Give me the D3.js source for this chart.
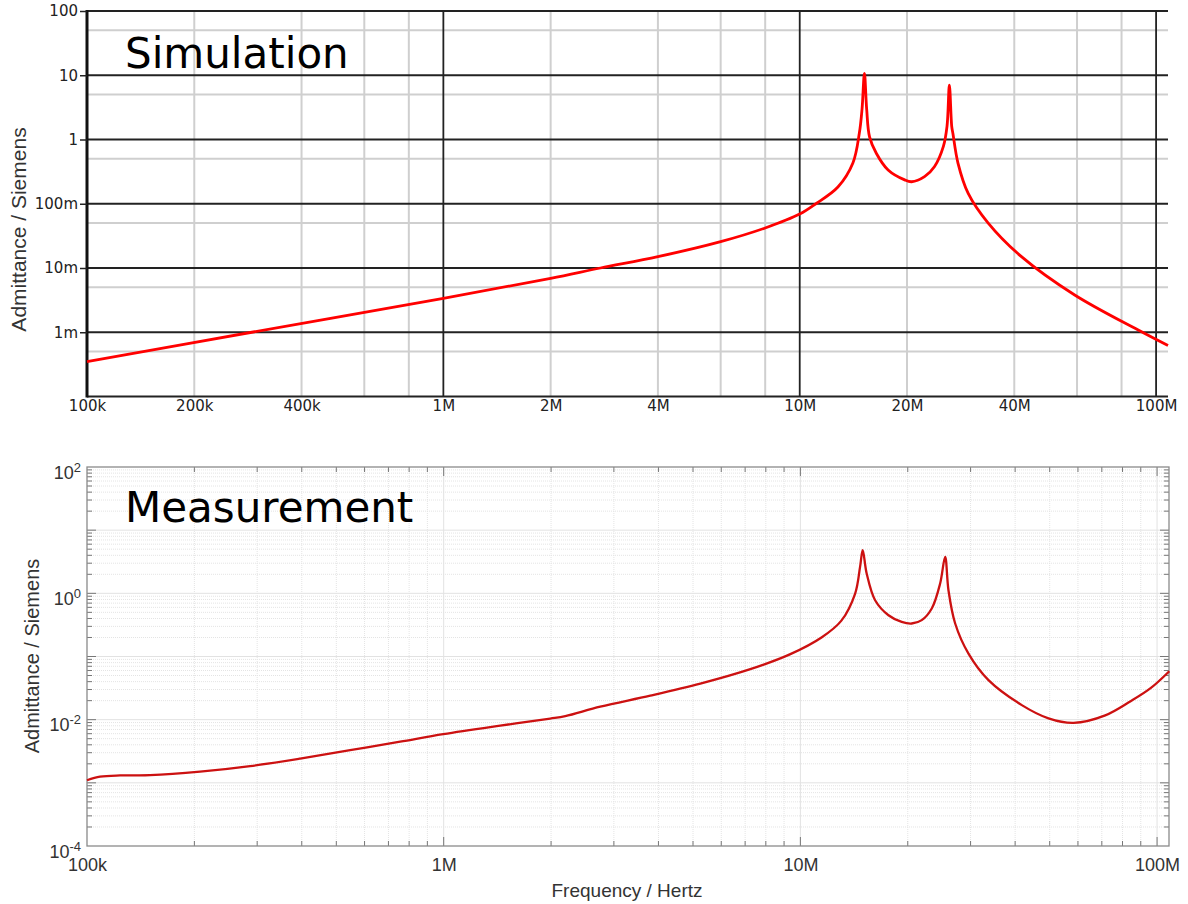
<!DOCTYPE html>
<html><head><meta charset="utf-8">
<script src="https://cdn.jsdelivr.net/npm/d3@7"></script>
<style>body{margin:0;background:#fff}svg{display:block}</style>
</head><body>
<svg id="c" width="1188" height="904"></svg>
<script>
// ---------- DATA ----------
const simFreq = [1e5, 2.9e5, 1e6, 2e6, 2.76e6, 4e6, 6e6, 8e6, 1e7, 1.11e7, 1.28e7, 1.41e7, 1.47e7, 1.496e7, 1.519e7, 1.541e7, 1.57e7, 1.64e7, 1.77e7, 1.97e7, 2.06e7, 2.24e7, 2.39e7, 2.53e7, 2.59e7, 2.63e7, 2.67e7, 2.69e7, 2.78e7, 2.97e7, 3.38e7, 4.19e7, 5.91e7, 8.91e7, 1.08e8];
const simAdm  = [3.5e-4, 1e-3, 3.37e-3, 6.9e-3, 1e-2, 1.5e-2, 2.57e-2, 4.2e-2, 6.9e-2, 0.1, 0.182, 0.43, 1.26, 3.0, 10.7, 3.0, 1.1, 0.61, 0.335, 0.235, 0.22, 0.264, 0.38, 0.78, 1.6, 7.0, 1.6, 1.25, 0.43, 0.145, 0.05, 0.015, 3.8e-3, 1.08e-3, 6.2e-4];

const measFreq = [1e5, 1.088e5, 1.238e5, 1.502e5, 2.075e5, 2.866e5, 3.959e5, 5.467e5, 7.551e5, 9.97e5, 1.44e6, 1.989e6, 2.192e6, 2.748e6, 3.795e6, 5.242e6, 7.238e6, 9.374e6, 1.146e7, 1.303e7, 1.424e7, 1.47e7, 1.495e7, 1.534e7, 1.62e7, 1.766e7, 1.923e7, 2.052e7, 2.189e7, 2.335e7, 2.465e7, 2.546e7, 2.601e7, 2.716e7, 2.96e7, 3.368e7, 4.176e7, 4.961e7, 5.833e7, 7.156e7, 8.43e7, 9.59e7, 1.082e8];
const measAdm  = [1.10e-3, 1.25e-3, 1.31e-3, 1.32e-3, 1.50e-3, 1.84e-3, 2.42e-3, 3.29e-3, 4.49e-3, 5.90e-3, 8.04e-3, 1.04e-2, 1.14e-2, 1.61e-2, 2.40e-2, 3.72e-2, 6.30e-2, 0.109, 0.2, 0.37, 0.993, 2.62, 4.81, 2.06, 0.778, 0.45, 0.353, 0.333, 0.376, 0.575, 1.43, 3.77, 1.12, 0.333, 0.111, 4.22e-2, 1.70e-2, 1.05e-2, 8.91e-3, 1.17e-2, 1.96e-2, 3.15e-2, 5.85e-2];

const topYTicks = [1e-3, 1e-2, 1e-1, 1, 10, 100];
const topYLabels = ["1m", "10m", "100m", "1", "10", "100"];
const topXTicks = [1e5, 2e5, 4e5, 1e6, 2e6, 4e6, 1e7, 2e7, 4e7, 1e8];
const topXLabels = ["100k", "200k", "400k", "1M", "2M", "4M", "10M", "20M", "40M", "100M"];

const botYTicks = [1e-4, 1e-2, 1, 1e2];
const botYExps = ["-4", "-2", "0", "2"];
const botXTicks = [1e5, 1e6, 1e7, 1e8];
const botXLabels = ["100k", "1M", "10M", "100M"];

// ---------- CHART ----------
const svg = d3.select("#c");

// ===== Top: Simulation =====
const xT = d3.scaleLog().domain([1e5, 1.08e8]).range([87, 1168]);
const yT = d3.scaleLog().domain([1e-4, 100]).range([396.5, 11]);
const gT = svg.append("g");
const [tx0, tx1] = xT.range(), [ty1, ty0] = yT.range();

const decadesX = [1e5, 1e6, 1e7];
const grayV = [];
decadesX.forEach(d => [2, 4, 6, 8].forEach(m => grayV.push(d * m)));
const grayH = [5e-4, 5e-3, 5e-2, 5e-1, 5, 50];

gT.selectAll(".gv").data(grayV).join("line")
  .attr("x1", d => xT(d)).attr("x2", d => xT(d)).attr("y1", ty0).attr("y2", ty1)
  .attr("stroke", "#cfcfcf").attr("stroke-width", 2);
gT.selectAll(".gh").data(grayH).join("line")
  .attr("y1", d => yT(d)).attr("y2", d => yT(d)).attr("x1", tx0).attr("x2", tx1)
  .attr("stroke", "#cfcfcf").attr("stroke-width", 2);

gT.selectAll(".bh").data([1e-4, 1e-3, 1e-2, 1e-1, 1, 10, 100]).join("line")
  .attr("y1", d => yT(d)).attr("y2", d => yT(d)).attr("x1", tx0).attr("x2", tx1)
  .attr("stroke", "#222").attr("stroke-width", 1.8);
gT.selectAll(".bv").data([1e6, 1e7, 1e8]).join("line")
  .attr("x1", d => xT(d)).attr("x2", d => xT(d)).attr("y1", ty0).attr("y2", ty1)
  .attr("stroke", "#222").attr("stroke-width", 1.8);
gT.append("line").attr("x1", xT(1e5)).attr("x2", xT(1e5)).attr("y1", ty0 - 1).attr("y2", ty1 + 1)
  .attr("stroke", "#111").attr("stroke-width", 3);

const yAxT = gT.append("g").attr("transform", `translate(${tx0},0)`)
  .call(d3.axisLeft(yT).tickValues(topYTicks).tickFormat((d, i) => topYLabels[i]).tickSize(7).tickPadding(2));
yAxT.select(".domain").remove();
yAxT.selectAll("line").attr("stroke", "#222").attr("stroke-width", 1.5);
yAxT.selectAll("text").attr("font-family", "DejaVu Sans").attr("font-size", 15).attr("fill", "#222");

const xAxT = gT.append("g").attr("transform", `translate(0,${ty1})`)
  .call(d3.axisBottom(xT).tickValues(topXTicks).tickFormat((d, i) => topXLabels[i]).tickSize(0).tickPadding(4));
xAxT.select(".domain").remove();
xAxT.selectAll("text").attr("font-family", "DejaVu Sans").attr("font-size", 15).attr("fill", "#222");

const lineT = d3.line().x((d, i) => xT(simFreq[i])).y((d, i) => yT(simAdm[i])).curve(d3.curveCatmullRom.alpha(0.5));
gT.append("path").datum(simAdm).attr("d", lineT)
  .attr("fill", "none").attr("stroke", "#ff0000").attr("stroke-width", 2.8).attr("stroke-linejoin", "round");

gT.append("text").attr("x", 125).attr("y", 68).attr("font-family", "DejaVu Sans").attr("font-size", 42)
  .attr("fill", "#000").text("Simulation");
gT.append("text").attr("transform", "translate(26,229.5) rotate(-90)").attr("text-anchor", "middle")
  .attr("font-family", "Liberation Sans, Arial").attr("font-size", 21).attr("fill", "#333")
  .text("Admittance / Siemens");

// ===== Bottom: Measurement =====
const xB = d3.scaleLog().domain([1e5, 1.08e8]).range([87, 1169]);
const yB = d3.scaleLog().domain([1e-4, 1e2]).range([846, 467]);
const gB = svg.append("g");
const [bx0, bx1] = xB.range(), [by1, by0] = yB.range();

const minorX = [], majorX = [1e6, 1e7, 1e8];
[1e5, 1e6, 1e7].forEach(d => d3.range(2, 10).forEach(m => minorX.push(d * m)));
const minorY = [], majorY = [1e-3, 1e-2, 1e-1, 1, 10];
[1e-4, 1e-3, 1e-2, 1e-1, 1, 10].forEach(d => d3.range(2, 10).forEach(m => minorY.push(d * m)));

gB.selectAll(".mgv").data(minorX).join("line")
  .attr("x1", d => xB(d)).attr("x2", d => xB(d)).attr("y1", by0).attr("y2", by1)
  .attr("stroke", "#e4e4e4").attr("stroke-width", 1).attr("stroke-dasharray", "1,1");
gB.selectAll(".mgh").data(minorY).join("line")
  .attr("y1", d => yB(d)).attr("y2", d => yB(d)).attr("x1", bx0).attr("x2", bx1)
  .attr("stroke", "#e4e4e4").attr("stroke-width", 1).attr("stroke-dasharray", "1,1");
gB.selectAll(".Mgv").data(majorX).join("line")
  .attr("x1", d => xB(d)).attr("x2", d => xB(d)).attr("y1", by0).attr("y2", by1)
  .attr("stroke", "#e2e2e2").attr("stroke-width", 1);
gB.selectAll(".Mgh").data(majorY).join("line")
  .attr("y1", d => yB(d)).attr("y2", d => yB(d)).attr("x1", bx0).attr("x2", bx1)
  .attr("stroke", "#e2e2e2").attr("stroke-width", 1);

// ticks (inside, all four sides)
const tickCol = "#777";
const ticksX = minorX.map(v => ({v, L: 5})).concat(majorX.map(v => ({v, L: 9})));
const ticksY = minorY.map(v => ({v, L: 5})).concat(majorY.map(v => ({v, L: 9})));
gB.selectAll(".tb").data(ticksX).join("line")
  .attr("x1", d => xB(d.v)).attr("x2", d => xB(d.v)).attr("y1", by1).attr("y2", d => by1 - d.L)
  .attr("stroke", tickCol);
gB.selectAll(".tt").data(ticksX).join("line")
  .attr("x1", d => xB(d.v)).attr("x2", d => xB(d.v)).attr("y1", by0).attr("y2", d => by0 + d.L)
  .attr("stroke", tickCol);
gB.selectAll(".tl").data(ticksY).join("line")
  .attr("y1", d => yB(d.v)).attr("y2", d => yB(d.v)).attr("x1", bx0).attr("x2", d => bx0 + d.L)
  .attr("stroke", tickCol);
gB.selectAll(".tr").data(ticksY).join("line")
  .attr("y1", d => yB(d.v)).attr("y2", d => yB(d.v)).attr("x1", bx1).attr("x2", d => bx1 - d.L)
  .attr("stroke", tickCol);

gB.append("rect").attr("x", bx0).attr("y", by0).attr("width", bx1 - bx0).attr("height", by1 - by0)
  .attr("fill", "none").attr("stroke", "#8a8a8a").attr("stroke-width", 1.3);

const yAxB = gB.append("g").attr("transform", `translate(${bx0},0)`)
  .call(d3.axisLeft(yB).tickValues(botYTicks).tickFormat(() => "").tickSize(0).tickPadding(6));
yAxB.select(".domain").remove();
yAxB.selectAll(".tick text").each(function (d, i) {
  const t = d3.select(this);
  t.attr("dy", null).attr("y", 11).attr("font-family", "Liberation Sans, Arial").attr("font-size", 18).attr("fill", "#333");
  t.append("tspan").text("10");
  t.append("tspan").attr("dy", -7).attr("font-size", 13).text(botYExps[i]);
});

const xAxB = gB.append("g").attr("transform", `translate(0,${by1})`)
  .call(d3.axisBottom(xB).tickValues(botXTicks).tickFormat((d, i) => botXLabels[i]).tickSize(0).tickPadding(12));
xAxB.select(".domain").remove();
xAxB.selectAll("text").attr("font-family", "Liberation Sans, Arial").attr("font-size", 18).attr("fill", "#333");

const lineB = d3.line().x((d, i) => xB(measFreq[i])).y((d, i) => yB(measAdm[i])).curve(d3.curveCatmullRom.alpha(0.5));
gB.append("path").datum(measAdm).attr("d", lineB)
  .attr("fill", "none").attr("stroke", "#cc1111").attr("stroke-width", 2.3).attr("stroke-linejoin", "round");

gB.append("text").attr("x", 125).attr("y", 521.5).attr("font-family", "DejaVu Sans").attr("font-size", 42)
  .attr("fill", "#000").text("Measurement");
gB.append("text").attr("transform", "translate(39,656) rotate(-90)").attr("text-anchor", "middle")
  .attr("font-family", "Liberation Sans, Arial").attr("font-size", 20).attr("fill", "#333")
  .text("Admittance / Siemens");
gB.append("text").attr("x", 627).attr("y", 897).attr("text-anchor", "middle")
  .attr("font-family", "Liberation Sans, Arial").attr("font-size", 19).attr("fill", "#333")
  .text("Frequency / Hertz");
</script>
</body></html>
